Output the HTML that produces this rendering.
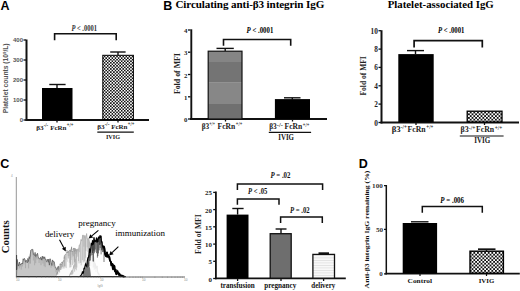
<!DOCTYPE html>
<html><head><meta charset="utf-8">
<style>
html,body{margin:0;padding:0;background:#fff;width:520px;height:291px;overflow:hidden}
svg{display:block}
.ss{font-family:"Liberation Sans",sans-serif}
.sf{font-family:"Liberation Serif",serif;font-weight:bold}
.hs{font-family:"Liberation Serif",serif}
.lb{font-family:"Liberation Sans",sans-serif;font-weight:bold;font-size:12.5px}
</style></head><body>
<svg width="520" height="291" viewBox="0 0 520 291">
<defs>
<pattern id="chk" patternUnits="userSpaceOnUse" width="3.1" height="3.1">
<rect width="3.1" height="3.1" fill="#111"/>
<rect x="0" y="0" width="1.55" height="1.55" fill="#fff"/>
<rect x="1.55" y="1.55" width="1.55" height="1.55" fill="#fff"/>
</pattern>
<pattern id="chk2" patternUnits="userSpaceOnUse" width="3.6" height="3.6">
<rect width="3.6" height="3.6" fill="#111"/>
<rect x="0" y="0" width="1.8" height="1.8" fill="#fff"/>
<rect x="1.8" y="1.8" width="1.8" height="1.8" fill="#fff"/>
</pattern>
<pattern id="hl" patternUnits="userSpaceOnUse" width="4" height="2.5">
<rect width="4" height="2.5" fill="#f8f8f8"/>
<rect y="0" width="4" height="0.8" fill="#e0e0e0"/>
</pattern>
</defs>
<rect width="520" height="291" fill="#fff"/>

<!-- ================= PANEL A ================= -->
<text class="lb" x="0.5" y="10">A</text>
<g stroke="#111" fill="none">
<line x1="26.5" y1="39.5" x2="26.5" y2="121" stroke-width="2"/>
<line x1="25.5" y1="120" x2="149" y2="120" stroke-width="2"/>
<g stroke-width="1.3">
<line x1="23.5" y1="40" x2="26" y2="40"/>
<line x1="23.5" y1="60" x2="26" y2="60"/>
<line x1="23.5" y1="80" x2="26" y2="80"/>
<line x1="23.5" y1="100" x2="26" y2="100"/>
<line x1="23.5" y1="120" x2="26" y2="120"/>
<line x1="57" y1="120" x2="57" y2="122.5"/>
<line x1="118" y1="120" x2="118" y2="122.5"/>
</g>
</g>
<g class="ss" font-size="6" font-weight="bold" fill="#555" text-anchor="end">
<text x="23" y="42.2">400</text>
<text x="23" y="62.2">300</text>
<text x="23" y="82.2">200</text>
<text x="23" y="102.2">100</text>
<text x="23" y="122.2">0</text>
</g>
<text class="ss" font-size="6.3" font-weight="bold" fill="#555" transform="translate(8,113.2) rotate(-90)" textLength="69.8" lengthAdjust="spacingAndGlyphs">Platelet counts (10<tspan font-size="4" dy="-2">9</tspan><tspan dy="2">/L)</tspan></text>
<!-- bars -->
<rect x="42" y="88" width="30.5" height="32" fill="#000"/>
<g stroke="#111" stroke-width="1.4">
<line x1="57" y1="88" x2="57" y2="84.5"/>
<line x1="49.3" y1="84.5" x2="65.6" y2="84.5"/>
<line x1="118" y1="55" x2="118" y2="52"/>
<line x1="110.2" y1="52" x2="125.6" y2="52"/>
</g>
<rect x="102.8" y="55.3" width="30.6" height="64.2" fill="url(#chk)" stroke="#000" stroke-width="1"/>
<!-- bracket -->
<path d="M54.6 40.2 V33.8 H116.2 V40.2" fill="none" stroke="#111" stroke-width="1.6"/>
<text class="sf" fill="#333" font-size="7.4" x="71.4" y="30.8" textLength="25.6" lengthAdjust="spacingAndGlyphs"><tspan font-style="italic">P</tspan> &lt; .0001</text>

<!-- ================= PANEL B ================= -->
<text class="lb" x="163.3" y="9.6">B</text>
<text class="sf" font-size="11.1" x="175.4" y="8.3" textLength="149" lengthAdjust="spacing">Circulating anti-β3 integrin IgG</text>
<text class="sf" font-size="9.8" x="387.7" y="7.8" textLength="106.1" lengthAdjust="spacingAndGlyphs">Platelet-associated IgG</text>

<!-- B left -->
<g stroke="#111" fill="none">
<line x1="191.3" y1="29.3" x2="191.3" y2="120" stroke-width="1.9"/>
<line x1="190" y1="119" x2="327" y2="119" stroke-width="2"/>
<g stroke-width="1.3">
<line x1="188" y1="30" x2="190.5" y2="30"/>
<line x1="188" y1="52.2" x2="190.5" y2="52.2"/>
<line x1="188" y1="74.5" x2="190.5" y2="74.5"/>
<line x1="188" y1="96.8" x2="190.5" y2="96.8"/>
<line x1="188" y1="119" x2="190.5" y2="119"/>
<line x1="225.5" y1="119" x2="225.5" y2="121.5"/>
<line x1="292.5" y1="119" x2="292.5" y2="121.5"/>
</g>
</g>
<g class="sf" font-size="6.8" fill="#222" text-anchor="end">
<text x="187.5" y="33.0">4</text>
<text x="187.5" y="55.2">3</text>
<text x="187.5" y="77.5">2</text>
<text x="187.5" y="99.8">1</text>
<text x="187.5" y="122.0">0</text>
</g>
<text class="sf" font-size="7.2" fill="#222" transform="translate(180.2,94.1) rotate(-90)" textLength="41" lengthAdjust="spacingAndGlyphs">Fold of MFI</text>
<!-- banded gray bar -->
<rect x="208.2" y="51.2" width="33.8" height="11" fill="#858585"/>
<rect x="208.2" y="62" width="33.8" height="20.7" fill="#747474"/>
<rect x="208.2" y="82.5" width="33.8" height="21.5" fill="#878787"/>
<rect x="208.2" y="104" width="33.8" height="15" fill="#707070"/>
<rect x="208.2" y="51.2" width="33.8" height="67.8" fill="none" stroke="#111" stroke-width="1.2"/>
<g stroke="#111" stroke-width="1.4">
<line x1="225.2" y1="51" x2="225.2" y2="48.4"/>
<line x1="216.5" y1="48.4" x2="233.8" y2="48.4"/>
<line x1="292.3" y1="99.5" x2="292.3" y2="97.8"/>
<line x1="284" y1="97.8" x2="300.5" y2="97.8"/>
</g>
<rect x="274.9" y="99.1" width="35.1" height="19.9" fill="#000"/>
<path d="M223.5 45.8 V39.5 H290.7 V45.8" fill="none" stroke="#111" stroke-width="1.6"/>
<text class="sf" font-size="7.6" x="246.6" y="32.8" textLength="26.7" lengthAdjust="spacingAndGlyphs"><tspan font-style="italic">P</tspan> &lt; .0001</text>

<!-- B right -->
<g stroke="#111" fill="none">
<line x1="381.5" y1="30.2" x2="381.5" y2="123.5" stroke-width="2"/>
<line x1="380.5" y1="122.5" x2="519" y2="122.5" stroke-width="2"/>
<g stroke-width="1.3">
<line x1="378.5" y1="30.7" x2="381" y2="30.7"/>
<line x1="378.5" y1="49.1" x2="381" y2="49.1"/>
<line x1="378.5" y1="67.4" x2="381" y2="67.4"/>
<line x1="378.5" y1="85.8" x2="381" y2="85.8"/>
<line x1="378.5" y1="104.1" x2="381" y2="104.1"/>
<line x1="378.5" y1="122.5" x2="381" y2="122.5"/>
<line x1="416" y1="122.5" x2="416" y2="125"/>
<line x1="484.5" y1="122.5" x2="484.5" y2="125"/>
</g>
</g>
<g class="sf" font-size="7.3" fill="#222" text-anchor="end">
<text x="377.8" y="33.7">10</text>
<text x="377.8" y="52.1">8</text>
<text x="377.8" y="70.4">6</text>
<text x="377.8" y="88.8">4</text>
<text x="377.8" y="107.1">2</text>
<text x="377.8" y="125.5">0</text>
</g>
<text class="sf" font-size="7.2" fill="#222" transform="translate(366,95.6) rotate(-90)" textLength="39.4" lengthAdjust="spacingAndGlyphs">Fold of MFI</text>
<rect x="398.3" y="54.1" width="35.4" height="68.4" fill="#000"/>
<g stroke="#111" stroke-width="1.4">
<line x1="415.5" y1="54.1" x2="415.5" y2="50.6"/>
<line x1="407" y1="50.6" x2="424" y2="50.6"/>
</g>
<rect x="467.2" y="111.2" width="34.8" height="10.8" fill="url(#chk2)" stroke="#000" stroke-width="1.3"/>
<path d="M414.1 47.4 V40.7 H482.3 V47.4" fill="none" stroke="#111" stroke-width="1.7"/>
<text class="sf" font-size="7.6" x="437.9" y="32.6" textLength="26.5" lengthAdjust="spacingAndGlyphs"><tspan font-style="italic">P</tspan> &lt; .0001</text>

<g class="sf">
<text x="36.15" y="129.80" font-size="7.00" textLength="7.40" lengthAdjust="spacingAndGlyphs" fill="#1a1a1a">β3</text>
<text x="43.65" y="127.00" font-size="5.40" textLength="4.60" lengthAdjust="spacingAndGlyphs" fill="#1a1a1a">-/-</text>
<text x="50.15" y="129.80" font-size="7.00" textLength="16.30" lengthAdjust="spacingAndGlyphs" fill="#1a1a1a">FcRn</text>
<text x="66.75" y="127.00" font-size="5.40" textLength="6.60" lengthAdjust="spacingAndGlyphs" fill="#1a1a1a">+/+</text>
<text x="97.15" y="128.50" font-size="7.00" textLength="7.40" lengthAdjust="spacingAndGlyphs" fill="#1a1a1a">β3</text>
<text x="104.65" y="125.70" font-size="5.40" textLength="4.90" lengthAdjust="spacingAndGlyphs" fill="#1a1a1a">-/-</text>
<text x="111.15" y="128.50" font-size="7.00" textLength="16.30" lengthAdjust="spacingAndGlyphs" fill="#1a1a1a">FcRn</text>
<text x="127.75" y="125.70" font-size="5.40" textLength="6.60" lengthAdjust="spacingAndGlyphs" fill="#1a1a1a">+/+</text>
<text x="105.95" y="138.90" font-size="7.00" textLength="14.20" lengthAdjust="spacingAndGlyphs" fill="#1a1a1a">IVIG</text>
<line x1="97.3" y1="132.1" x2="133.8" y2="132.1" stroke="#111" stroke-width="1.2"/>
<text x="201.65" y="129.10" font-size="7.20" textLength="7.50" lengthAdjust="spacingAndGlyphs" fill="#1a1a1a">β3</text>
<text x="209.35" y="126.30" font-size="5.40" textLength="5.60" lengthAdjust="spacingAndGlyphs" fill="#1a1a1a">+/+</text>
<text x="217.55" y="129.10" font-size="7.20" textLength="17.60" lengthAdjust="spacingAndGlyphs" fill="#1a1a1a">FcRn</text>
<text x="235.85" y="126.30" font-size="5.40" textLength="6.50" lengthAdjust="spacingAndGlyphs" fill="#1a1a1a">+/+</text>
<text x="269.15" y="129.40" font-size="7.20" textLength="7.50" lengthAdjust="spacingAndGlyphs" fill="#1a1a1a">β3</text>
<text x="276.85" y="126.60" font-size="5.40" textLength="6.05" lengthAdjust="spacingAndGlyphs" fill="#1a1a1a">-/-</text>
<text x="284.55" y="129.40" font-size="7.20" textLength="17.60" lengthAdjust="spacingAndGlyphs" fill="#1a1a1a">FcRn</text>
<text x="302.85" y="126.60" font-size="5.40" textLength="6.50" lengthAdjust="spacingAndGlyphs" fill="#1a1a1a">+/+</text>
<text x="278.25" y="139.70" font-size="7.20" textLength="15.70" lengthAdjust="spacingAndGlyphs" fill="#1a1a1a">IVIG</text>
<line x1="268.8" y1="132.3" x2="311.1" y2="132.3" stroke="#111" stroke-width="1.2"/>
<text x="391.65" y="132.10" font-size="7.30" textLength="9.00" lengthAdjust="spacingAndGlyphs" fill="#1a1a1a">β3</text>
<text x="400.85" y="129.30" font-size="5.40" textLength="6.05" lengthAdjust="spacingAndGlyphs" fill="#1a1a1a">-/+</text>
<text x="407.55" y="132.10" font-size="7.30" textLength="18.10" lengthAdjust="spacingAndGlyphs" fill="#1a1a1a">FcRn</text>
<text x="426.35" y="129.30" font-size="5.40" textLength="7.00" lengthAdjust="spacingAndGlyphs" fill="#1a1a1a">+/+</text>
<text x="460.45" y="132.40" font-size="7.30" textLength="8.20" lengthAdjust="spacingAndGlyphs" fill="#1a1a1a">β3</text>
<text x="468.85" y="129.60" font-size="5.40" textLength="6.50" lengthAdjust="spacingAndGlyphs" fill="#1a1a1a">-/+</text>
<text x="476.05" y="132.40" font-size="7.30" textLength="18.10" lengthAdjust="spacingAndGlyphs" fill="#1a1a1a">FcRn</text>
<text x="494.85" y="129.60" font-size="5.40" textLength="7.50" lengthAdjust="spacingAndGlyphs" fill="#1a1a1a">+/+</text>
<text x="474.15" y="143.20" font-size="7.30" textLength="16.10" lengthAdjust="spacingAndGlyphs" fill="#1a1a1a">IVIG</text>
<line x1="459.8" y1="136.0" x2="503.6" y2="136.0" stroke="#111" stroke-width="1.2"/>
</g>
<!-- ================= PANEL C ================= -->
<text class="lb" x="0.3" y="167.6">C</text>
<!-- histogram axes -->
<line x1="16.3" y1="177" x2="16.3" y2="277" stroke="#8a8a8a" stroke-width="0.9"/>
<line x1="16" y1="277" x2="185" y2="277" stroke="#666" stroke-width="1"/>
<text class="ss" font-size="3" fill="#999" x="11" y="177">4</text>
<text class="sf" font-size="11" fill="#111" transform="translate(9.4,253.2) rotate(-90)" textLength="33" lengthAdjust="spacingAndGlyphs">Counts</text>

<g>
<path d="M16.5 276.4 L16.5 276.0 L17.1 259.4 L17.7 262.4 L18.3 266.1 L18.9 264.0 L19.5 262.0 L20.1 265.2 L20.7 264.2 L21.3 264.3 L21.9 263.0 L22.5 263.9 L23.1 258.8 L23.7 260.2 L24.3 258.3 L24.9 259.2 L25.5 262.2 L26.1 260.1 L26.7 261.5 L27.3 262.9 L27.9 258.4 L28.5 261.5 L29.1 256.7 L29.7 258.6 L30.3 254.2 L30.9 250.1 L31.5 249.6 L32.1 249.6 L32.7 249.3 L33.3 253.2 L33.9 254.9 L34.5 255.5 L35.1 252.4 L35.7 256.6 L36.3 254.6 L36.9 255.2 L37.5 253.2 L38.1 256.4 L38.7 258.4 L39.3 258.5 L39.9 259.2 L40.5 257.3 L41.1 257.6 L41.7 260.1 L42.3 256.1 L42.9 258.5 L43.5 256.7 L44.1 258.8 L44.7 256.8 L45.3 259.4 L45.9 259.0 L46.5 261.8 L47.1 261.3 L47.7 259.2 L48.3 262.3 L48.9 259.0 L49.5 265.1 L50.1 258.7 L50.7 260.4 L51.3 262.8 L51.9 265.5 L52.5 259.9 L53.1 261.9 L53.7 261.3 L54.3 261.8 L54.9 266.4 L55.5 266.9 L56.1 268.1 L56.7 269.7 L57.3 269.0 L57.9 266.6 L58.5 266.3 L59.1 273.1 L59.7 273.9 L60.3 272.7 L60.9 273.4 L61.5 271.5 L62.1 275.0 L62.7 275.1 L63.3 275.2 L63.9 275.2 L64.5 275.9 L65.1 276.1 L65.7 276.1 L65.7 276.4 Z" fill="#c6c6c6" stroke="none"/>
<path d="M17.2 259.4V262.9 M17.6 262.4V269.1 M19.4 262.0V268.4 M20.1 265.2V266.6 M21.2 264.3V269.6 M22.4 263.9V266.5 M23.8 260.2V264.4 M25.5 262.2V268.2 M28.6 261.5V268.4 M29.9 258.6V263.5 M30.3 254.2V263.6 M30.7 250.1V256.7 M32.8 249.3V255.3 M33.4 253.2V260.5 M34.6 255.5V265.2 M35.7 256.6V263.2 M36.1 254.6V257.8 M37.0 255.2V259.4 M39.1 258.5V263.0 M40.3 257.3V259.7 M41.0 257.6V265.2 M42.3 256.1V260.5 M42.9 258.5V263.5 M44.1 258.8V266.2 M45.2 259.4V267.1 M48.9 259.0V265.3 M51.1 262.8V267.7 M53.2 261.9V266.7 M53.5 261.3V264.6 M54.9 266.4V268.3 M56.0 268.1V272.1 M57.2 269.0V271.5 M57.9 266.6V269.4 M59.6 273.9V274.2 M60.3 272.7V273.9 M60.9 273.4V273.8 M61.6 271.5V273.0" stroke="#6a6a6a" stroke-width="0.50" opacity="0.55" fill="none"/>
<path d="M16.5 276.0 L17.1 259.4 L17.7 262.4 L18.3 266.1 L18.9 264.0 L19.5 262.0 L20.1 265.2 L20.7 264.2 L21.3 264.3 L21.9 263.0 L22.5 263.9 L23.1 258.8 L23.7 260.2 L24.3 258.3 L24.9 259.2 L25.5 262.2 L26.1 260.1 L26.7 261.5 L27.3 262.9 L27.9 258.4 L28.5 261.5 L29.1 256.7 L29.7 258.6 L30.3 254.2 L30.9 250.1 L31.5 249.6 L32.1 249.6 L32.7 249.3 L33.3 253.2 L33.9 254.9 L34.5 255.5 L35.1 252.4 L35.7 256.6 L36.3 254.6 L36.9 255.2 L37.5 253.2 L38.1 256.4 L38.7 258.4 L39.3 258.5 L39.9 259.2 L40.5 257.3 L41.1 257.6 L41.7 260.1 L42.3 256.1 L42.9 258.5 L43.5 256.7 L44.1 258.8 L44.7 256.8 L45.3 259.4 L45.9 259.0 L46.5 261.8 L47.1 261.3 L47.7 259.2 L48.3 262.3 L48.9 259.0 L49.5 265.1 L50.1 258.7 L50.7 260.4 L51.3 262.8 L51.9 265.5 L52.5 259.9 L53.1 261.9 L53.7 261.3 L54.3 261.8 L54.9 266.4 L55.5 266.9 L56.1 268.1 L56.7 269.7 L57.3 269.0 L57.9 266.6 L58.5 266.3 L59.1 273.1 L59.7 273.9 L60.3 272.7 L60.9 273.4 L61.5 271.5 L62.1 275.0 L62.7 275.1 L63.3 275.2 L63.9 275.2 L64.5 275.9 L65.1 276.1 L65.7 276.1" fill="none" stroke="#555" stroke-width="0.7"/>
<line x1="16.6" y1="255" x2="16.6" y2="270" stroke="#333" stroke-width="0.9"/>
<path d="M56.0 276.4 L56.0 276.4 L56.6 275.1 L57.2 272.2 L57.8 272.4 L58.4 268.7 L59.0 269.0 L59.6 268.0 L60.2 263.6 L60.8 264.1 L61.4 264.6 L62.0 261.9 L62.6 263.4 L63.2 261.0 L63.8 260.3 L64.4 255.8 L65.0 255.1 L65.6 254.1 L66.2 254.1 L66.8 250.1 L67.4 252.9 L68.0 250.9 L68.6 252.2 L69.2 251.7 L69.8 250.1 L70.4 249.8 L71.0 251.5 L71.6 246.9 L72.2 251.9 L72.8 251.3 L73.4 249.0 L74.0 247.9 L74.6 251.3 L75.2 248.5 L75.8 250.4 L76.4 249.5 L77.0 251.5 L77.6 250.3 L78.2 254.5 L78.8 256.8 L79.4 258.7 L80.0 259.7 L80.6 261.6 L81.2 262.8 L81.8 263.4 L82.4 268.7 L83.0 269.9 L83.6 268.7 L84.2 272.9 L84.8 274.0 L85.4 274.5 L86.0 276.4 L86.0 276.4 Z" fill="#fafafa" stroke="none"/>
<path d="M57.0 272.2V274.0 M57.7 272.4V274.7 M58.6 268.7V271.9 M59.0 269.0V271.0 M59.6 268.0V272.5 M60.2 263.6V269.9 M60.8 264.1V270.0 M61.4 264.6V267.7 M62.2 261.9V266.8 M62.6 263.4V266.7 M64.0 260.3V268.5 M64.4 255.8V266.3 M65.1 255.1V266.6 M66.1 254.1V268.1 M68.2 250.9V258.4 M69.0 251.7V256.1 M69.9 250.1V267.6 M70.6 249.8V264.6 M70.9 251.5V267.1 M71.5 246.9V250.6 M72.2 251.9V254.7 M72.7 251.3V265.1 M73.4 249.0V256.2 M74.1 247.9V263.6 M74.5 251.3V262.0 M75.2 248.5V265.8 M75.7 250.4V254.1 M76.5 249.5V257.9 M76.8 251.5V264.2 M77.6 250.3V259.3 M78.4 254.5V265.9 M78.8 256.8V259.1 M79.2 258.7V266.6 M80.2 259.7V265.5 M80.6 261.6V266.8 M81.1 262.8V270.3 M81.8 263.4V270.4 M82.5 268.7V273.8 M83.2 269.9V272.7 M83.8 268.7V273.7 M84.3 272.9V274.7 M84.7 274.0V275.1" stroke="#8a8a8a" stroke-width="0.60" opacity="0.80" fill="none"/>
<path d="M57.3 272.2V273.9 M57.7 272.4V274.0 M58.3 268.7V269.8 M58.9 269.0V270.7 M59.7 268.0V270.1 M60.1 263.6V268.4 M60.9 264.1V268.5 M61.3 264.6V269.3 M61.8 261.9V268.3 M62.8 263.4V268.7 M63.6 260.3V267.3 M64.4 255.8V262.7 M65.0 255.1V259.2 M66.2 254.1V259.9 M67.4 252.9V261.8 M68.0 250.9V256.1 M68.6 252.2V258.4 M69.2 251.7V262.6 M69.7 250.1V262.8 M70.3 249.8V262.1 M70.9 251.5V257.8 M71.5 246.9V259.9 M72.4 251.9V256.4 M72.9 251.3V257.4 M73.9 247.9V260.1 M74.5 251.3V259.6 M75.1 248.5V253.4 M75.6 250.4V261.3 M76.5 249.5V260.0 M76.9 251.5V261.2 M77.6 250.3V261.5 M78.3 254.5V256.9 M78.8 256.8V258.7 M79.8 259.7V262.3 M80.7 261.6V265.4 M81.4 262.8V265.3 M81.8 263.4V266.0 M82.4 268.7V270.4 M83.1 269.9V272.1 M83.7 268.7V269.6 M84.2 272.9V273.6 M84.7 274.0V275.0" stroke="#aaa" stroke-width="0.60" opacity="0.60" fill="none"/>
<path d="M56.0 276.4 L56.6 275.1 L57.2 272.2 L57.8 272.4 L58.4 268.7 L59.0 269.0 L59.6 268.0 L60.2 263.6 L60.8 264.1 L61.4 264.6 L62.0 261.9 L62.6 263.4 L63.2 261.0 L63.8 260.3 L64.4 255.8 L65.0 255.1 L65.6 254.1 L66.2 254.1 L66.8 250.1 L67.4 252.9 L68.0 250.9 L68.6 252.2 L69.2 251.7 L69.8 250.1 L70.4 249.8 L71.0 251.5 L71.6 246.9 L72.2 251.9 L72.8 251.3 L73.4 249.0 L74.0 247.9 L74.6 251.3 L75.2 248.5 L75.8 250.4 L76.4 249.5 L77.0 251.5 L77.6 250.3 L78.2 254.5 L78.8 256.8 L79.4 258.7 L80.0 259.7 L80.6 261.6 L81.2 262.8 L81.8 263.4 L82.4 268.7 L83.0 269.9 L83.6 268.7 L84.2 272.9 L84.8 274.0 L85.4 274.5 L86.0 276.4" fill="none" stroke="#777" stroke-width="0.8" stroke-dasharray="0.8 0.7"/>
<path d="M69.0 276.4 L69.0 276.4 L69.5 275.7 L70.1 274.2 L70.6 272.9 L71.2 272.4 L71.7 270.7 L72.3 270.8 L72.8 270.2 L73.4 268.0 L73.9 265.4 L74.5 265.3 L75.0 263.9 L75.6 259.0 L76.1 258.5 L76.7 256.3 L77.2 251.0 L77.8 248.9 L78.3 251.1 L78.9 248.1 L79.4 245.0 L80.0 244.3 L80.5 243.1 L81.1 239.5 L81.6 241.0 L82.2 239.4 L82.7 235.2 L83.3 235.2 L83.8 235.7 L84.4 238.3 L84.9 235.5 L85.5 238.1 L86.0 238.6 L86.6 233.6 L87.1 238.5 L87.7 239.0 L88.2 238.6 L88.8 239.6 L89.3 242.1 L89.9 242.4 L90.4 245.6 L91.0 243.6 L91.5 248.5 L92.1 247.5 L92.6 249.0 L93.2 255.3 L93.7 256.9 L94.3 259.7 L94.8 262.9 L95.4 264.2 L95.9 266.1 L96.5 268.2 L97.0 265.9 L97.6 271.4 L98.1 273.3 L98.7 273.3 L99.2 274.7 L99.8 275.2 L100.3 275.6 L100.9 276.2 L100.9 276.4 Z" fill="#f7f7f7" stroke="none"/>
<path d="M70.1 274.2V275.1 M70.8 272.9V274.6 M71.0 272.4V274.7 M71.7 270.7V274.5 M72.4 270.8V274.5 M73.0 270.2V273.6 M73.9 265.4V268.3 M74.6 265.3V271.7 M75.0 263.9V266.9 M75.6 259.0V269.2 M76.3 258.5V270.3 M76.8 256.3V267.5 M77.8 248.9V256.6 M78.5 251.1V261.1 M79.0 248.1V263.4 M79.4 245.0V252.2 M80.6 243.1V262.9 M81.2 239.5V265.3 M82.6 235.2V260.2 M83.2 235.2V262.4 M83.9 235.7V246.6 M84.3 238.3V261.1 M85.0 235.5V262.3 M85.6 238.1V257.7 M85.9 238.6V250.9 M87.2 238.5V247.3 M87.9 239.0V251.9 M88.2 238.6V248.9 M88.9 239.6V263.2 M89.2 242.1V255.7 M89.7 242.4V263.7 M90.4 245.6V255.5 M90.9 243.6V266.2 M91.4 248.5V258.4 M92.2 247.5V255.5 M92.7 249.0V256.4 M93.1 255.3V267.6 M93.8 256.9V267.1 M94.2 259.7V270.0 M94.8 262.9V268.8 M95.5 264.2V268.7 M96.0 266.1V272.0 M97.2 265.9V269.8 M97.7 271.4V273.5 M98.3 273.3V275.4 M98.8 273.3V274.4" stroke="#a8a8a8" stroke-width="0.70" opacity="0.85" fill="none"/>
<path d="M69.0 276.4 L69.5 275.7 L70.1 274.2 L70.6 272.9 L71.2 272.4 L71.7 270.7 L72.3 270.8 L72.8 270.2 L73.4 268.0 L73.9 265.4 L74.5 265.3 L75.0 263.9 L75.6 259.0 L76.1 258.5 L76.7 256.3 L77.2 251.0 L77.8 248.9 L78.3 251.1 L78.9 248.1 L79.4 245.0 L80.0 244.3 L80.5 243.1 L81.1 239.5 L81.6 241.0 L82.2 239.4 L82.7 235.2 L83.3 235.2 L83.8 235.7 L84.4 238.3 L84.9 235.5 L85.5 238.1 L86.0 238.6 L86.6 233.6 L87.1 238.5 L87.7 239.0 L88.2 238.6 L88.8 239.6 L89.3 242.1 L89.9 242.4 L90.4 245.6 L91.0 243.6 L91.5 248.5 L92.1 247.5 L92.6 249.0 L93.2 255.3 L93.7 256.9 L94.3 259.7 L94.8 262.9 L95.4 264.2 L95.9 266.1 L96.5 268.2 L97.0 265.9 L97.6 271.4 L98.1 273.3 L98.7 273.3 L99.2 274.7 L99.8 275.2 L100.3 275.6 L100.9 276.2" fill="none" stroke="#b0b0b0" stroke-width="0.9"/>
<path d="M80.0 276.4 L80.0 276.4 L80.5 275.8 L81.0 275.7 L81.5 274.3 L82.0 273.6 L82.5 271.3 L83.0 273.2 L83.5 272.5 L84.0 268.4 L84.5 268.4 L85.0 266.1 L85.5 264.1 L86.0 265.8 L86.5 266.3 L87.0 263.7 L87.5 259.9 L88.0 257.7 L88.5 257.4 L89.0 254.4 L89.5 248.5 L90.0 252.9 L90.5 250.7 L91.0 247.5 L91.5 242.9 L92.0 245.5 L92.5 240.3 L93.0 244.3 L93.5 243.9 L94.0 237.3 L94.5 241.3 L95.0 240.5 L95.5 241.5 L96.0 241.2 L96.5 237.6 L97.0 242.8 L97.5 238.6 L98.0 241.9 L98.5 236.8 L99.0 238.2 L99.5 237.9 L100.0 235.3 L100.5 237.9 L101.0 235.7 L101.5 241.9 L102.0 241.8 L102.5 246.2 L103.0 247.4 L103.5 246.4 L104.0 248.4 L104.5 252.4 L105.0 254.7 L105.5 255.8 L106.0 256.1 L106.5 252.1 L107.0 256.3 L107.5 254.6 L108.0 256.6 L108.5 255.9 L109.0 257.2 L109.5 260.1 L110.0 260.9 L110.5 261.6 L111.0 264.9 L111.5 264.1 L112.0 263.8 L112.5 268.9 L113.0 266.8 L113.5 265.3 L114.0 266.0 L114.5 271.0 L115.0 269.3 L115.5 272.3 L116.0 273.9 L116.5 273.2 L117.0 270.8 L117.5 272.3 L118.0 273.0 L118.5 274.5 L119.0 273.5 L119.5 274.8 L120.0 275.3 L120.5 275.1 L121.0 275.4 L121.5 275.5 L122.0 275.5 L122.5 276.0 L123.0 276.0 L123.5 276.3 L124.0 276.4 L124.0 276.4 Z" fill="#fff" fill-opacity="0.75" stroke="none"/>
<path d="M88.0 257.7V267.0 M88.4 257.4V264.4 M89.1 254.4V265.9 M89.6 248.5V261.0 M89.9 252.9V257.5 M90.4 250.7V260.5 M90.9 247.5V255.8 M92.0 245.5V255.0 M92.5 240.3V252.9 M93.0 244.3V261.3 M93.4 243.9V261.6 M93.9 237.3V250.7 M94.4 241.3V253.3 M95.0 240.5V251.8 M95.3 241.5V249.5 M96.5 237.6V253.2 M97.4 238.6V257.7 M97.9 241.9V256.1 M98.4 236.8V253.4 M99.2 238.2V250.4 M99.5 237.9V244.9 M100.2 235.3V248.1 M100.4 237.9V244.5 M101.1 235.7V254.4 M101.4 241.9V250.4 M102.2 241.8V249.7 M102.6 246.2V252.1 M103.2 247.4V252.1 M104.0 248.4V262.0" stroke="#111" stroke-width="0.60" opacity="0.90" fill="none"/>
<path d="M81.6 274.3V274.6 M82.1 273.6V274.4 M83.3 272.5V273.9 M83.9 268.4V270.0 M84.7 268.4V270.0 M85.2 266.1V268.7 M87.3 259.9V267.9" stroke="#222" stroke-width="0.60" opacity="0.70" fill="none"/>
<path d="M80.0 276.4 L80.5 275.8 L81.0 275.7 L81.5 274.3 L82.0 273.6 L82.5 271.3 L83.0 273.2 L83.5 272.5 L84.0 268.4 L84.5 268.4 L85.0 266.1 L85.5 264.1 L86.0 265.8 L86.5 266.3 L87.0 263.7 L87.5 259.9 L88.0 257.7 L88.5 257.4 L89.0 254.4 L89.5 248.5 L90.0 252.9 L90.5 250.7 L91.0 247.5 L91.5 242.9 L92.0 245.5 L92.5 240.3 L93.0 244.3 L93.5 243.9 L94.0 237.3 L94.5 241.3 L95.0 240.5 L95.5 241.5 L96.0 241.2 L96.5 237.6 L97.0 242.8 L97.5 238.6 L98.0 241.9 L98.5 236.8 L99.0 238.2 L99.5 237.9 L100.0 235.3 L100.5 237.9 L101.0 235.7 L101.5 241.9 L102.0 241.8 L102.5 246.2 L103.0 247.4 L103.5 246.4 L104.0 248.4 L104.5 252.4 L105.0 254.7 L105.5 255.8 L106.0 256.1 L106.5 252.1 L107.0 256.3 L107.5 254.6 L108.0 256.6 L108.5 255.9 L109.0 257.2 L109.5 260.1 L110.0 260.9 L110.5 261.6 L111.0 264.9 L111.5 264.1 L112.0 263.8 L112.5 268.9 L113.0 266.8 L113.5 265.3 L114.0 266.0 L114.5 271.0 L115.0 269.3 L115.5 272.3 L116.0 273.9 L116.5 273.2 L117.0 270.8 L117.5 272.3 L118.0 273.0 L118.5 274.5 L119.0 273.5 L119.5 274.8 L120.0 275.3 L120.5 275.1 L121.0 275.4 L121.5 275.5 L122.0 275.5 L122.5 276.0 L123.0 276.0 L123.5 276.3 L124.0 276.4" fill="none" stroke="#000" stroke-width="1.1"/>
<path d="M103.5 247.7 L104.0 246.7 L104.5 248.7 L105.0 252.7 L105.5 255.0 L106.0 256.1 L106.5 256.4 L107.0 252.4 L107.5 256.6 L108.0 254.9 L108.5 256.9 L109.0 256.2 L109.5 257.5 L110.0 260.4 L110.5 261.2 L111.0 261.9 L111.5 265.2 L112.0 264.4 L112.5 264.1 L113.0 269.2 L113.5 267.1 L114.0 265.6 L114.5 266.3 L115.0 271.3 L115.5 269.6 L116.0 272.6 L116.5 274.2 L117.0 273.5 L117.5 271.1 L118.0 272.6 L118.5 273.3 L119.0 274.8 L119.5 273.8 L120.0 275.1 L120.5 275.6 L121.0 275.4 L121.5 275.7 L122.0 275.8 L122.5 275.8 L123.0 276.3 L123.5 276.3 L124.0 276.6 L124.5 276.7" fill="none" stroke="#000" stroke-width="1.9" stroke-linejoin="round"/>
<path d="M82 276.4 L84 271 L86 267 L88 262 L90 268 L91 276.4 Z" fill="#111" opacity="0.55"/>
<line x1="16.3" y1="276.5" x2="126" y2="276.5" stroke="#222" stroke-width="0.9"/>
<line x1="59.5" y1="239.8" x2="63.8" y2="247.7" stroke="#000" stroke-width="1.1"/><path d="M65.8 251.4 L61.9 248.8 L65.7 246.7 Z" fill="#000"/>
<line x1="98.4" y1="230.3" x2="91.8" y2="235.9" stroke="#000" stroke-width="1.1"/><path d="M88.6 238.6 L90.4 234.2 L93.2 237.6 Z" fill="#000"/>
<line x1="118.4" y1="246.7" x2="112.1" y2="252.6" stroke="#000" stroke-width="1.1"/><path d="M109.0 255.5 L110.6 251.0 L113.6 254.2 Z" fill="#000"/>
</g>
<g class="hs" font-size="9.2" fill="#000">
<text x="44.9" y="237.4" textLength="29.3" lengthAdjust="spacingAndGlyphs">delivery</text>
<text x="78.2" y="226.2" textLength="37.5" lengthAdjust="spacingAndGlyphs">pregnancy</text>
<text x="115.2" y="235.9" textLength="49.9" lengthAdjust="spacingAndGlyphs">immunization</text>
</g>
<g class="ss" font-size="3.2" fill="#888">
<text x="16.0" y="280.5">10</text>
<text x="58.0" y="280.5">10</text>
<text x="100.0" y="280.5">10</text>
<text x="142.0" y="280.5">10</text>
<text x="184.0" y="280.5">10</text>
<text x="97.5" y="287">IgG</text>
</g>
<path d="M16.3 276.6 V277.8 M28.9 276.6 V277.8 M36.3 276.6 V277.8 M41.6 276.6 V277.8 M45.7 276.6 V277.8 M49.0 276.6 V277.8 M51.8 276.6 V277.8 M54.2 276.6 V277.8 M56.4 276.6 V277.8 M58.3 276.6 V277.8 M70.9 276.6 V277.8 M78.3 276.6 V277.8 M83.6 276.6 V277.8 M87.7 276.6 V277.8 M91.0 276.6 V277.8 M93.8 276.6 V277.8 M96.2 276.6 V277.8 M98.4 276.6 V277.8 M100.3 276.6 V277.8 M112.9 276.6 V277.8 M120.3 276.6 V277.8 M125.6 276.6 V277.8 M129.7 276.6 V277.8 M133.0 276.6 V277.8 M135.8 276.6 V277.8 M138.2 276.6 V277.8 M140.4 276.6 V277.8 M142.3 276.6 V277.8 M154.9 276.6 V277.8 M162.3 276.6 V277.8 M167.6 276.6 V277.8 M171.7 276.6 V277.8 M175.0 276.6 V277.8 M177.8 276.6 V277.8 M180.2 276.6 V277.8 M182.4 276.6 V277.8" stroke="#777" stroke-width="0.5"/>

<!-- C right bar chart -->
<g stroke="#111" fill="none">
<line x1="215.9" y1="191.6" x2="215.9" y2="279.3" stroke-width="1.8"/>
<line x1="215" y1="278.4" x2="345.8" y2="278.4" stroke-width="1.8"/>
<g stroke-width="1.3">
<line x1="213.2" y1="192.4" x2="215.5" y2="192.4"/>
<line x1="213.2" y1="209.6" x2="215.5" y2="209.6"/>
<line x1="213.2" y1="226.8" x2="215.5" y2="226.8"/>
<line x1="213.2" y1="244.1" x2="215.5" y2="244.1"/>
<line x1="213.2" y1="261.3" x2="215.5" y2="261.3"/>
<line x1="213.2" y1="278.5" x2="215.5" y2="278.5"/>
<line x1="237.6" y1="278.4" x2="237.6" y2="281"/>
<line x1="281" y1="278.4" x2="281" y2="281"/>
<line x1="323.6" y1="278.4" x2="323.6" y2="281"/>
</g>
</g>
<g class="sf" font-size="6.9" fill="#222" text-anchor="end">
<text x="212" y="195.4">25</text>
<text x="212" y="212.6">20</text>
<text x="212" y="229.8">15</text>
<text x="212" y="247.1">10</text>
<text x="212" y="264.3">5</text>
<text x="212" y="281.5">0</text>
</g>
<text class="sf" font-size="7.2" fill="#222" transform="translate(201.4,254) rotate(-90)" textLength="39.7" lengthAdjust="spacingAndGlyphs">Fold of MFI</text>
<rect x="226.6" y="214.6" width="21.9" height="63.8" fill="#000"/>
<rect x="270.2" y="233.7" width="21" height="44.5" fill="#6e6e6e" stroke="#111" stroke-width="1.3"/>
<rect x="312.9" y="254.4" width="21.6" height="23.8" fill="url(#hl)" stroke="#111" stroke-width="1.3"/>
<g stroke="#111" stroke-width="1.4">
<line x1="237.6" y1="214.6" x2="237.6" y2="208.5"/>
<line x1="232.3" y1="208.5" x2="243.6" y2="208.5"/>
<line x1="281" y1="233.6" x2="281" y2="229"/>
<line x1="275.6" y1="229" x2="286.5" y2="229"/>
<line x1="318.5" y1="253.2" x2="329" y2="253.2" stroke-width="1.8"/>
</g>
<g fill="none" stroke="#111" stroke-width="1.5">
<path d="M237.4 190 V183.9 H322.6 V190"/>
<path d="M237.4 204.7 V199 H279 V204.7"/>
<path d="M280.6 223 V217 H322.3 V223"/>
</g>
<g class="sf" font-size="7.2" fill="#111">
<text x="270.4" y="177.7" textLength="20.1" lengthAdjust="spacingAndGlyphs"><tspan font-style="italic">P</tspan> = .02</text>
<text x="248" y="193.9" textLength="19.4" lengthAdjust="spacingAndGlyphs"><tspan font-style="italic">P</tspan> &lt; .05</text>
<text x="290" y="213" textLength="19.7" lengthAdjust="spacingAndGlyphs"><tspan font-style="italic">P</tspan> = .02</text>
</g>
<g class="sf" font-size="7.2" fill="#111">
<text x="220.4" y="287.6" textLength="34.4" lengthAdjust="spacingAndGlyphs">transfusion</text>
<text x="264.3" y="287.6" textLength="32" lengthAdjust="spacingAndGlyphs">pregnancy</text>
<text x="311.3" y="287.6" textLength="23.9" lengthAdjust="spacingAndGlyphs">delivery</text>
</g>

<!-- ================= PANEL D ================= -->
<text class="lb" x="358.7" y="168">D</text>
<g stroke="#111" fill="none">
<line x1="386.3" y1="185" x2="386.3" y2="274.5" stroke-width="1.5"/>
<line x1="385.5" y1="273.7" x2="519.8" y2="273.7" stroke-width="1.8"/>
<g stroke-width="1.2">
<line x1="384" y1="185.6" x2="386" y2="185.6"/>
<line x1="384" y1="229.4" x2="386" y2="229.4"/>
<line x1="384" y1="273.8" x2="386" y2="273.8"/>
<line x1="420" y1="273.6" x2="420" y2="276"/>
<line x1="486.5" y1="273.6" x2="486.5" y2="276"/>
</g>
</g>
<g class="sf" font-size="7" fill="#333" text-anchor="end">
<text x="382.8" y="188.3" textLength="10.7" lengthAdjust="spacingAndGlyphs">100</text>
<text x="383.2" y="231.8" textLength="7.2" lengthAdjust="spacingAndGlyphs">50</text>
<text x="382.8" y="276.2">0</text>
</g>
<text class="sf" font-size="6.8" fill="#111" transform="translate(368.7,288.4) rotate(-90)" textLength="117.8" lengthAdjust="spacingAndGlyphs">Anti-β3 integrin IgG remaining (%)</text>
<rect x="402.7" y="223" width="34.4" height="50.6" fill="#000"/>
<rect x="470" y="251.2" width="33.4" height="22" fill="url(#chk2)" stroke="#000" stroke-width="1.4"/>
<g stroke="#111" stroke-width="1.4">
<line x1="411" y1="221.8" x2="428.5" y2="221.8"/>
<line x1="486.5" y1="251.8" x2="486.5" y2="249.2"/>
<line x1="478" y1="249.2" x2="495.5" y2="249.2" stroke-width="1.7"/>
</g>
<path d="M422.3 212.8 V206.4 H482.3 V212.8" fill="none" stroke="#111" stroke-width="1.5"/>
<text class="sf" font-size="7.2" x="440.3" y="202.5" textLength="23.7" lengthAdjust="spacingAndGlyphs"><tspan font-style="italic">P</tspan> = .006</text>
<g class="sf" font-size="6.9" fill="#111">
<text x="407.6" y="283.2" textLength="24.4" lengthAdjust="spacingAndGlyphs">Control</text>
<text x="478.7" y="283.2" textLength="15.5" lengthAdjust="spacingAndGlyphs">IVIG</text>
</g>
</svg>
</body></html>
